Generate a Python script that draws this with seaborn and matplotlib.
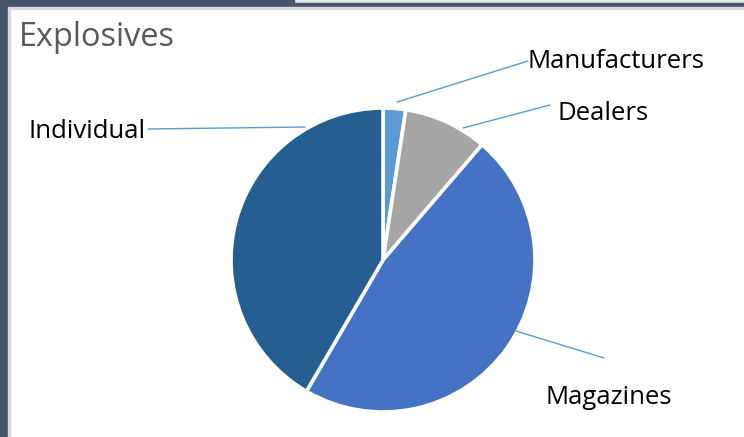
import matplotlib
matplotlib.use("Agg")
import matplotlib.pyplot as plt
import seaborn as sns
import numpy as np
from matplotlib.patches import Rectangle

# Data
categories = ["Manufacturers", "Dealers", "Magazines", "Individual"]
values = [2.4, 8.9, 47.1, 41.6]
colors = ["#5B9BD5", "#A5A5A5", "#4472C4", "#255E91"]
title = "Explosives"

sns.set_theme(style="white")
plt.rcParams['font.family'] = ['Open Sans', 'DejaVu Sans']

W, H = 744, 437
fig = plt.figure(figsize=(W / 100, H / 100), dpi=100)
ax = fig.add_axes([0, 0, 1, 1])

cx, cy, R = 383, H - 260, 152
wedges, _ = ax.pie(values, colors=colors, startangle=90, counterclock=False,
                   center=(cx, cy), radius=R,
                   wedgeprops=dict(edgecolor="white", linewidth=2.6))
ax.set_xlim(0, W)
ax.set_ylim(0, H)
ax.set_aspect("equal")
ax.axis("off")

# leader lines & labels (layout in pixel coords, y from top)
lines = {
    "Manufacturers": ((397, 102), (528, 61)),
    "Dealers": ((463, 128), (550, 105)),
    "Magazines": ((516, 331), (604, 358)),
    "Individual": ((305, 127), (148, 129)),
}
label_pos = {
    "Manufacturers": (527, 61, "left"),
    "Dealers": (557, 113, "left"),
    "Magazines": (545, 398, "left"),
    "Individual": (146, 132, "right"),
}
for cat in categories:
    (x0, y0), (x1, y1) = lines[cat]
    ax.plot([x0, x1], [H - y0, H - y1], color="#5B9BD5", lw=1.0)
    lx, ly, ha = label_pos[cat]
    ax.text(lx, H - ly, cat, ha=ha, va="center", fontsize=18.5, color="#000000")

ax.text(19, H - 38, title, ha="left", va="center", fontsize=23.4, color="#595959")

# window frame
fig.patches.append(Rectangle((0, 0), 8, H, transform=None, color="#44546A", zorder=10))
fig.patches.append(Rectangle((8, 0), 2, H - 9, transform=None, color="#D9D9D9", zorder=10))
fig.patches.append(Rectangle((0, H - 3), W, 3, transform=None, color="#E6E6E6", zorder=10))
fig.patches.append(Rectangle((0, H - 3), 294, 3, transform=None, color="#44546A", zorder=10))
fig.patches.append(Rectangle((0, H - 7), W, 4, transform=None, color="#44546A", zorder=10))
fig.patches.append(Rectangle((8, H - 9), W, 2, transform=None, color="#D9D9D9", zorder=10))

fig.savefig("out.png", dpi=100)
